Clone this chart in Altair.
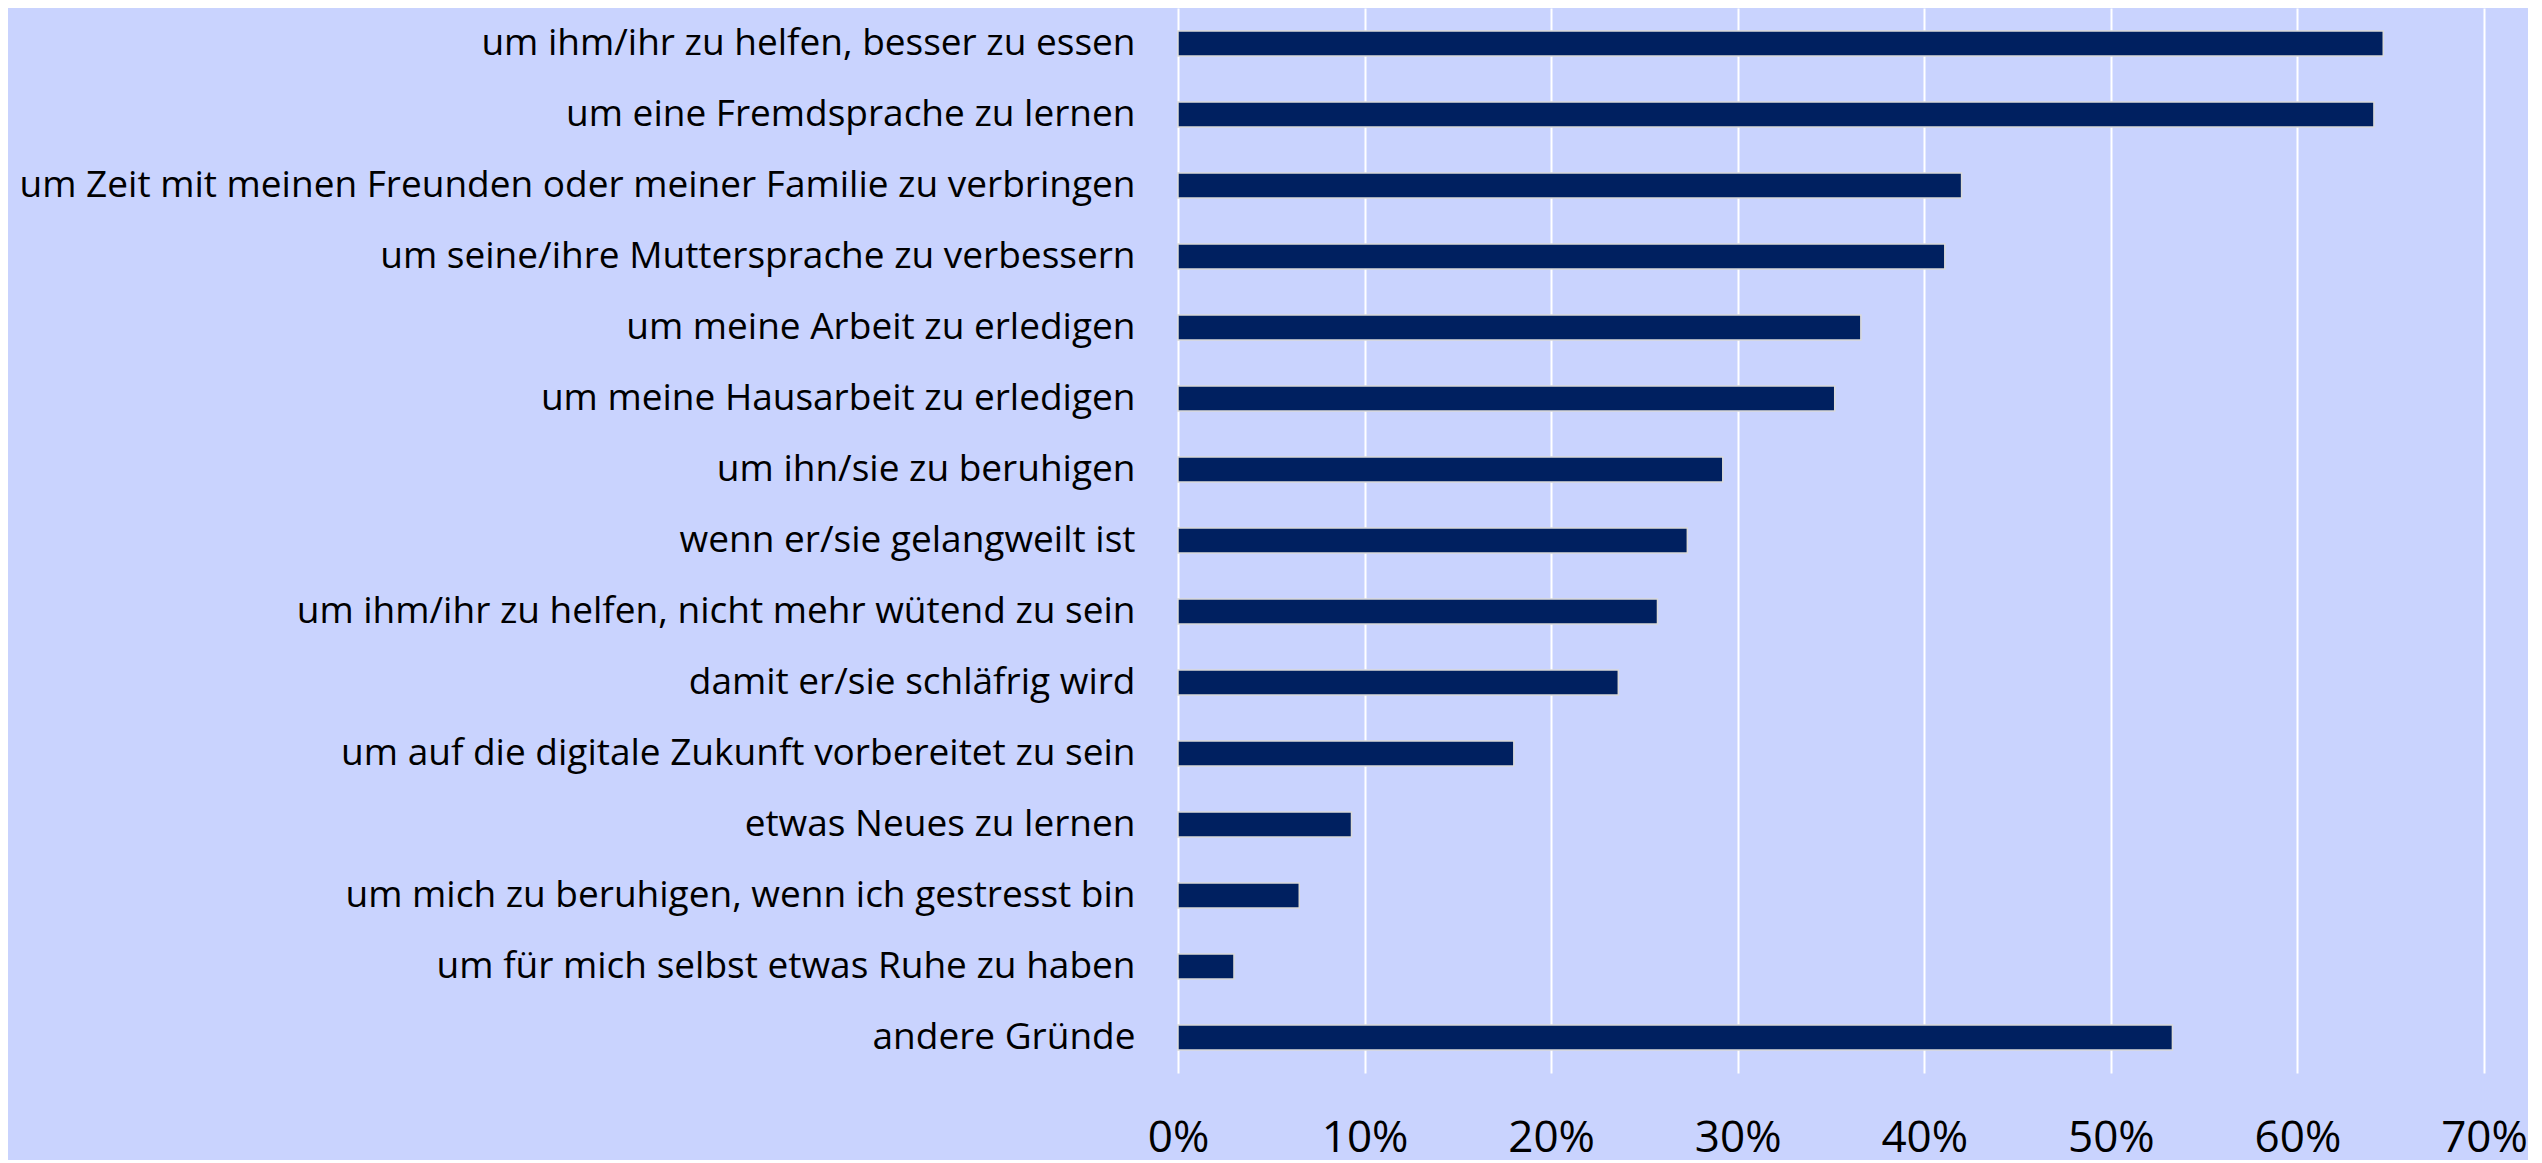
import altair as alt
import pandas as pd

categories = [
    "um ihm/ihr zu helfen, besser zu essen",
    "um eine Fremdsprache zu lernen",
    "um Zeit mit meinen Freunden oder meiner Familie zu verbringen",
    "um seine/ihre Muttersprache zu verbessern",
    "um meine Arbeit zu erledigen",
    "um meine Hausarbeit zu erledigen",
    "um ihn/sie zu beruhigen",
    "wenn er/sie gelangweilt ist",
    "um ihm/ihr zu helfen, nicht mehr wütend zu sein",
    "damit er/sie schläfrig wird",
    "um auf die digitale Zukunft vorbereitet zu sein",
    "etwas Neues zu lernen",
    "um mich zu beruhigen, wenn ich gestresst bin",
    "um für mich selbst etwas Ruhe zu haben",
    "andere Gründe",
]
values = [0.646, 0.641, 0.420, 0.411, 0.366, 0.352, 0.292, 0.273, 0.257,
          0.236, 0.180, 0.093, 0.065, 0.030, 0.533]
tick_values = [0.0, 0.1, 0.2, 0.3, 0.4, 0.5, 0.6, 0.7]

df = pd.DataFrame({"Grund": categories, "Anteil": values})

FONT = "Open Sans"

chart = (
    alt.Chart(df)
    .mark_bar(color="#002060", stroke="#D9D9D9", strokeWidth=1.5, size=25)
    .encode(
        x=alt.X(
            "Anteil:Q",
            scale=alt.Scale(domain=[0, 0.7], nice=False),
            axis=alt.Axis(
                values=tick_values,
                format=".0%",
                title=None,
                grid=True,
                gridColor="#FFFFFF",
                gridWidth=2,
                gridOpacity=1,
                domain=False,
                ticks=False,
                labelFont=FONT,
                labelFontSize=44,
                labelColor="#000000",
                labelPadding=43,
                labelFlush=False,
            ),
        ),
        y=alt.Y(
            "Grund:N",
            sort=categories,
            scale=alt.Scale(paddingInner=0.64, paddingOuter=0.32),
            axis=alt.Axis(
                title=None,
                grid=False,
                domain=False,
                ticks=False,
                labelFont=FONT,
                labelFontSize=37,
                labelColor="#000000",
                labelPadding=43,
                labelLimit=1300,
                minExtent=1170,
                maxExtent=1170,
            ),
        ),
    )
    .properties(width=1306, height=1065, background="#C9D3FE", padding=0)
    .configure_view(stroke=None)
)

chart.save("out.html", embed_options={"renderer": "svg", "actions": False})
